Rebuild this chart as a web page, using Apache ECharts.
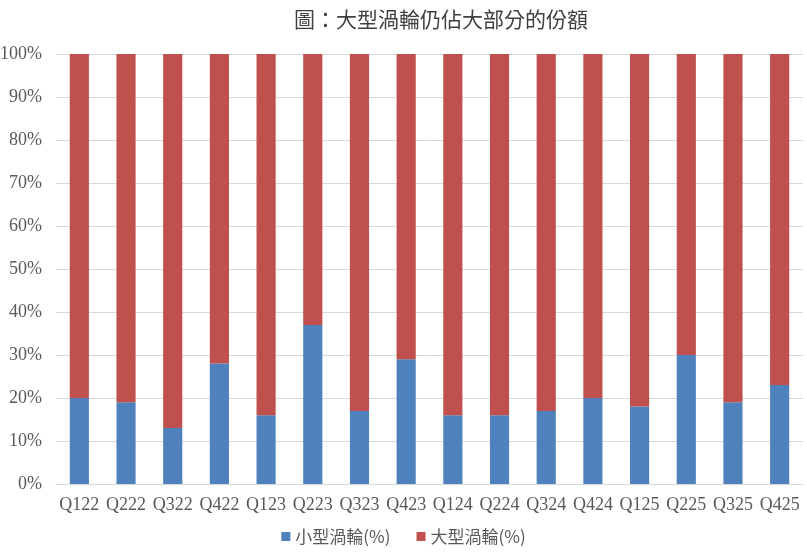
<!DOCTYPE html>
<html>
    <head>
        <meta charset="utf-8" />
        <title>ECharts</title>
        <script src="https://cdn.jsdelivr.net/npm/echarts@6.0.0/dist/echarts.min.js"></script>
    </head>
    <body style="margin:0;">
        <div id="main" style="width: 807px;height: 552px;"></div>
        <script type="text/javascript">
            const quarters = ["Q122", "Q222", "Q322", "Q422", "Q123", "Q223", "Q323", "Q423",
                "Q124", "Q224", "Q324", "Q424", "Q125", "Q225", "Q325", "Q425"];
            const smallTurbine = [20, 19, 13, 28, 16, 37, 17, 29, 16, 16, 17, 20, 18, 30, 19, 23];
            const largeTurbine = [80, 81, 87, 72, 84, 63, 83, 71, 84, 84, 83, 80, 82, 70, 81, 77];

            const SMALL = "小型渦輪(%)";
            const LARGE = "大型渦輪(%)";

            const serif = "'Liberation Serif', 'Times New Roman', serif";

            const myChart = echarts.init(document.getElementById('main'));

            const option = {
                animation: false,
                title: {
                    text: '圖：大型渦輪仍佔大部分的份額',
                    left: 436,
                    top: 4,
                    textAlign: 'center',
                    textStyle: {
                        color: '#404040',
                        fontSize: 21,
                        fontWeight: 'normal',
                        fontFamily: "'Noto Sans CJK TC', sans-serif"
                    }
                },
                grid: {
                    left: 56,
                    right: 4,
                    top: 54,
                    bottom: 68,
                    containLabel: false,
                    outerBoundsMode: 'none'
                },
                legend: {
                    bottom: 2,
                    left: 'center',
                    itemWidth: 9,
                    itemHeight: 9,
                    itemGap: 26,
                    icon: 'rect',
                    data: [SMALL, LARGE],
                    textStyle: {
                        color: '#595959',
                        fontSize: 17,
                        fontFamily: "'Noto Sans CJK TC', sans-serif"
                    }
                },
                xAxis: {
                    type: 'category',
                    data: quarters,
                    axisTick: { show: false },
                    axisLine: { lineStyle: { color: '#d9d9d9', width: 1 } },
                    axisLabel: {
                        color: '#595959',
                        fontSize: 18,
                        fontFamily: serif,
                        margin: 12,
                        interval: 0
                    }
                },
                yAxis: {
                    type: 'value',
                    min: 0,
                    max: 100,
                    interval: 10,
                    axisLine: { show: false },
                    axisTick: { show: false },
                    splitLine: { lineStyle: { color: '#d9d9d9', width: 1 } },
                    axisLabel: {
                        formatter: '{value}%',
                        color: '#595959',
                        fontSize: 18,
                        fontFamily: serif,
                        margin: 14
                    }
                },
                series: [
                    {
                        type: 'bar',
                        name: SMALL,
                        stack: 'total',
                        data: smallTurbine,
                        barWidth: '41%',
                        itemStyle: { color: '#4f81bd' }
                    },
                    {
                        type: 'bar',
                        name: LARGE,
                        stack: 'total',
                        data: largeTurbine,
                        barWidth: '41%',
                        itemStyle: { color: '#c0504d' }
                    }
                ]
            };
            myChart.setOption(option);
        </script>
    </body>
</html>
